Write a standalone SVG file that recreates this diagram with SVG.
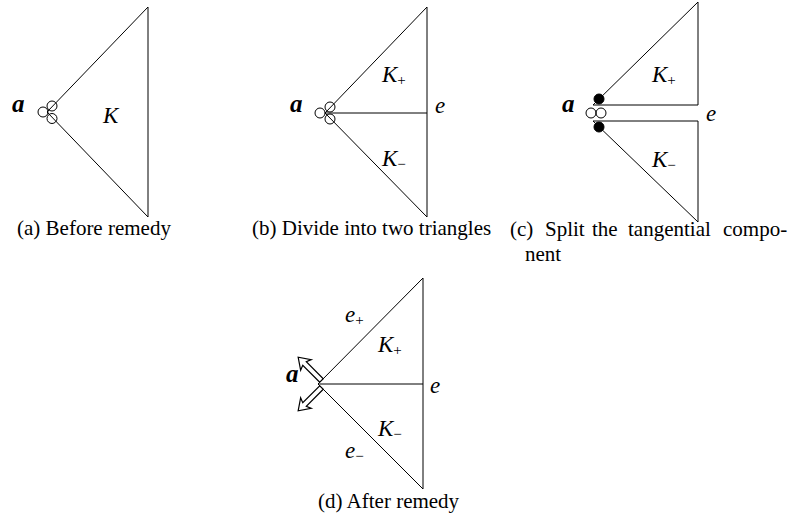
<svg xmlns="http://www.w3.org/2000/svg" width="789" height="516" viewBox="0 0 789 516">
<style>
.ln{fill:none;stroke:#000;stroke-width:1}
.oc{fill:none;stroke:#000;stroke-width:1}
.bd{fill:#000;stroke:#000;stroke-width:1}
.ar{fill:#fff;stroke:#000;stroke-width:1.2;stroke-linejoin:miter}
.pt{font-family:"Liberation Serif","Times New Roman",serif;font-size:25px;font-weight:bold;font-style:italic;fill:#000}
.mi{font-family:"Liberation Serif","Times New Roman",serif;font-size:23px;font-style:italic;fill:#000}
.sb{font-size:15px;font-style:normal}
.cap{font-family:"Liberation Serif","Times New Roman",serif;font-size:21px;fill:#000}
</style>
<defs>
<path id="harrow" d="M0,-2.5 L24,-2.5 L22,-7.5 L33,0 L22,7.5 L24,2.5 L0,2.5 Z"/>
</defs>
<rect width="789" height="516" fill="#fff"/>
<g id="connectors">
<polyline class="ln" points="148,7 47,112 148,217"/>
<line class="ln" x1="148" y1="7" x2="148" y2="217"/>
<polyline class="ln" points="427,7 325,113 427,217"/>
<line class="ln" x1="427" y1="7" x2="427" y2="217"/>
<line class="ln" x1="325" y1="113" x2="427" y2="113"/>
<polygon class="ln" points="593,105 698,2 698,105"/>
<polygon class="ln" points="593,121 698,222 698,121"/>
<polyline class="ln" points="423,278 318,384 423,489"/>
<line class="ln" x1="423" y1="278" x2="423" y2="489"/>
<line class="ln" x1="318" y1="384" x2="423" y2="384"/>
</g>
<g id="panel-a">
<circle class="oc" cx="52" cy="106" r="5"/>
<circle class="oc" cx="43" cy="112" r="5"/>
<circle class="oc" cx="52" cy="118.5" r="5"/>
<text class="pt" x="12" y="112">a</text>
<text class="mi" x="103" y="123">K</text>
<text class="cap" x="17" y="235">(a)  Before remedy</text>
</g>
<g id="panel-b">
<circle class="oc" cx="330" cy="107" r="5"/>
<circle class="oc" cx="320" cy="113" r="5"/>
<circle class="oc" cx="330" cy="119" r="5"/>
<text class="pt" x="290" y="112">a</text>
<text class="mi" x="382" y="82">K<tspan class="sb" dy="3">+</tspan></text>
<text class="mi" x="382" y="166">K<tspan class="sb" dy="3">−</tspan></text>
<text class="mi" x="435" y="113">e</text>
<text class="cap" x="252" y="235">(b)  Divide into two triangles</text>
</g>
<g id="panel-c">
<circle class="bd" cx="599" cy="99" r="5"/>
<circle class="bd" cx="599" cy="127" r="5"/>
<circle class="oc" cx="591" cy="113" r="5"/>
<circle class="oc" cx="601" cy="113" r="5"/>
<text class="pt" x="562" y="112">a</text>
<text class="mi" x="652" y="82">K<tspan class="sb" dy="3">+</tspan></text>
<text class="mi" x="652" y="167">K<tspan class="sb" dy="3">−</tspan></text>
<text class="mi" x="706" y="121">e</text>
<text class="cap" y="236"><tspan x="510">(c)</tspan><tspan x="545">Split</tspan><tspan x="592">the</tspan><tspan x="628">tangential</tspan><tspan x="723">compo-</tspan></text>
<text class="cap" x="525" y="261">nent</text>
</g>
<g id="panel-d">
<use href="#harrow" class="ar" transform="translate(321.5,380.5) rotate(-135)"/>
<use href="#harrow" class="ar" transform="translate(321.5,387.5) rotate(135)"/>
<text class="pt" x="286" y="382">a</text>
<text class="mi" x="345" y="322">e<tspan class="sb" dy="3">+</tspan></text>
<text class="mi" x="378" y="352">K<tspan class="sb" dy="3">+</tspan></text>
<text class="mi" x="430" y="393">e</text>
<text class="mi" x="378" y="436">K<tspan class="sb" dy="3">−</tspan></text>
<text class="mi" x="345" y="458">e<tspan class="sb" dy="3">−</tspan></text>
<text class="cap" x="318" y="508">(d)  After remedy</text>
</g>
</svg>
